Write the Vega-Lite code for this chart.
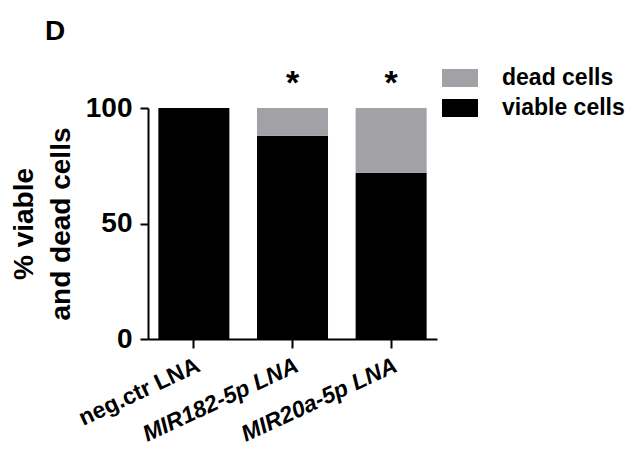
{
  "$schema": "https://vega.github.io/schema/vega-lite/v6.json",
  "autosize": {"type": "none"},
  "padding": {"left": 148, "top": 108, "right": 188, "bottom": 112},
  "width": 289,
  "height": 231,
  "background": "white",
  "title": {"text": "D", "anchor": "start", "frame": "group", "dx": -103, "dy": -10, "fontSize": 28, "font": "Liberation Sans", "fontWeight": "bold", "color": "black"},
  "datasets": {
    "cells": [
      {"group": "neg.ctr LNA", "status": "viable cells", "percent": 100},
      {"group": "neg.ctr LNA", "status": "dead cells", "percent": 0},
      {"group": "MIR182-5p LNA", "status": "viable cells", "percent": 88},
      {"group": "MIR182-5p LNA", "status": "dead cells", "percent": 12},
      {"group": "MIR20a-5p LNA", "status": "viable cells", "percent": 72},
      {"group": "MIR20a-5p LNA", "status": "dead cells", "percent": 28}
    ],
    "sig": [
      {"group": "MIR182-5p LNA", "mark": "*", "total": 100},
      {"group": "MIR20a-5p LNA", "mark": "*", "total": 100}
    ]
  },
  "layer": [
    {
      "data": {"name": "cells"},
      "mark": {"type": "bar"},
      "encoding": {
        "x": {
          "field": "group", "type": "nominal",
          "scale": {"domain": ["neg.ctr LNA", "MIR182-5p LNA", "MIR20a-5p LNA"], "paddingInner": 0.28, "paddingOuter": 0.105},
          "axis": {
            "title": null, "labelAngle": -25, "labelAlign": "right", "labelBaseline": "top",
            "labelFontSize": 23, "labelPadding": 6, "labelLimit": 400, "tickSize": 9, "tickWidth": 2, "domainWidth": 2,
            "labelFontStyle": {"condition": {"test": "indexof(datum.value, 'MIR') === 0", "value": "italic"}, "value": "normal"}
          }
        },
        "y": {
          "field": "percent", "type": "quantitative", "stack": "zero",
          "scale": {"domain": [0, 100]},
          "axis": {
            "values": [0, 50, 100], "grid": false, "labelFontSize": 28, "labelPadding": 8,
            "tickSize": 8, "tickWidth": 2, "domainWidth": 2,
            "title": ["% viable", "and dead cells"], "titleFontSize": 28, "titleLineHeight": 37, "titlePadding": 10
          }
        },
        "color": {
          "field": "status", "type": "nominal",
          "scale": {"domain": ["dead cells", "viable cells"], "range": ["#a2a2a6", "#000000"]},
          "legend": {
            "orient": "none", "legendX": 294, "legendY": -48, "title": null, "padding": 0,
            "symbolType": "M-1,-0.5H1V0.5H-1Z", "symbolSize": 1296, "symbolStrokeWidth": 0, "symbolOpacity": 1,
            "labelFontSize": 23, "labelFont": "Liberation Sans", "labelFontWeight": "bold", "labelColor": "black",
            "labelOffset": 24, "rowPadding": -18
          }
        },
        "order": {"field": "status", "sort": "descending"}
      }
    },
    {
      "data": {"name": "sig"},
      "mark": {"type": "text", "font": "Liberation Sans", "fontWeight": "bold", "fontSize": 34, "baseline": "alphabetic", "dy": -14, "color": "black"},
      "encoding": {
        "x": {"field": "group", "type": "nominal"},
        "y": {"field": "total", "type": "quantitative"},
        "text": {"field": "mark"}
      }
    }
  ],
  "config": {
    "view": {"stroke": null},
    "axis": {
      "domainColor": "black", "tickColor": "black", "labelColor": "black", "titleColor": "black",
      "labelFont": "Liberation Sans", "titleFont": "Liberation Sans", "labelFontWeight": "bold", "titleFontWeight": "bold"
    }
  }
}
